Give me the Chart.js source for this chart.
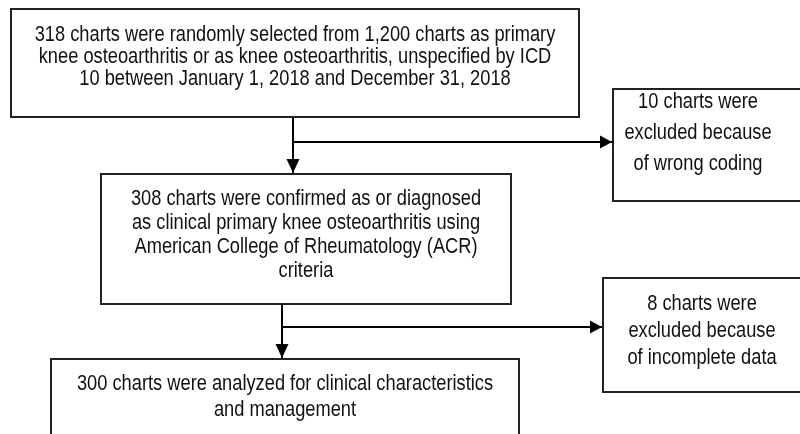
<!DOCTYPE html>
<html>
<head>
<meta charset="utf-8">
<script src="https://cdn.jsdelivr.net/npm/chart.js@4"></script>
<style>
  html, body { margin: 0; padding: 0; background: #fff; }
  canvas { display: block; }
</style>
</head>
<body>
<canvas id="flow_chart" width="800" height="434"></canvas>
<script>
// counts shown in the flow
const totalCharts = 1200;
const selectedCharts = 318;
const wrongCoding = 10;
const confirmedCharts = 308;
const incompleteData = 8;
const analyzedCharts = 300;

// text of each box, one entry per line
const boxLines = [
  [selectedCharts + " charts were randomly selected from 1,200 charts as primary",
   "knee osteoarthritis or as knee osteoarthritis, unspecified by ICD",
   "10 between January 1, 2018 and December 31, 2018"],
  [wrongCoding + " charts were", "excluded because", "of wrong coding"],
  [confirmedCharts + " charts were confirmed as or diagnosed",
   "as clinical primary knee osteoarthritis using",
   "American College of Rheumatology (ACR)",
   "criteria"],
  [incompleteData + " charts were", "excluded because", "of incomplete data"],
  [analyzedCharts + " charts were analyzed for clinical characteristics",
   "and management"]
];

// layout (diagram units = pixels of the 800x434 page)
// x0,y0,x1,y1 = box edges, tx = text centre, ty = first baseline, lh = line step
const boxLayout = [
  {x0: 11,  y0: 9,   x1: 579, y1: 117, tx: 295, ty: 41,  lh: 22},
  {x0: 613, y0: 89,  x1: 810, y1: 201, tx: 698, ty: 108, lh: 31},
  {x0: 101, y0: 174, x1: 511, y1: 304, tx: 306, ty: 205, lh: 24},
  {x0: 603, y0: 278, x1: 810, y1: 392, tx: 702, ty: 310, lh: 27},
  {x0: 51,  y0: 359, x1: 519, y1: 450, tx: 285, ty: 390, lh: 26}
];

// connectors, last point gets an arrow head
const connectors = [
  {pts: [{x: 293, y: 117}, {x: 293, y: 173}], dir: "down"},
  {pts: [{x: 293, y: 142}, {x: 612, y: 142}], dir: "right"},
  {pts: [{x: 282, y: 305}, {x: 282, y: 358}], dir: "down"},
  {pts: [{x: 282, y: 327}, {x: 602, y: 327}], dir: "right"}
];

const fontFamily = "'Liberation Sans', Arial, sans-serif";
const fontSize = 22;
const squeeze = 0.83; // text is narrow in the original

const flowPlugin = {
  id: "flowBoxes",
  afterDatasetsDraw(chart) {
    let ctx = chart.ctx;
    let xs = chart.scales.x, ys = chart.scales.y;
    ctx.save();
    // arrow heads
    ctx.fillStyle = "#000";
    connectors.forEach(c => {
      let p = c.pts[c.pts.length - 1];
      let px = xs.getPixelForValue(p.x), py = ys.getPixelForValue(p.y);
      ctx.beginPath();
      if (c.dir == "down") {
        ctx.moveTo(px, py);
        ctx.lineTo(px - 6.5, py - 14);
        ctx.lineTo(px + 6.5, py - 14);
      } else {
        ctx.moveTo(px, py);
        ctx.lineTo(px - 12, py - 6.5);
        ctx.lineTo(px - 12, py + 6.5);
      }
      ctx.closePath();
      ctx.fill();
    });
    // boxes and text
    boxLayout.forEach((b, i) => {
      let x0 = xs.getPixelForValue(b.x0), x1 = xs.getPixelForValue(b.x1);
      let y0 = ys.getPixelForValue(b.y0), y1 = ys.getPixelForValue(b.y1);
      ctx.strokeStyle = "#222";
      ctx.lineWidth = 2;
      ctx.strokeRect(x0, y0, x1 - x0, y1 - y0);
      ctx.fillStyle = "#111";
      ctx.font = fontSize + "px " + fontFamily;
      ctx.textAlign = "center";
      ctx.textBaseline = "alphabetic";
      boxLines[i].forEach((line, k) => {
        let cx = xs.getPixelForValue(b.tx);
        let cy = ys.getPixelForValue(b.ty + k * b.lh);
        ctx.save();
        ctx.translate(cx, cy);
        ctx.scale(squeeze, 1);
        ctx.fillText(line, 0, 0);
        ctx.restore();
      });
    });
    ctx.restore();
  }
};

new Chart("flow_chart", {
  type: "scatter",
  data: {
    datasets: connectors.map(c => ({
      data: c.pts,
      showLine: true,
      borderColor: "#000",
      borderWidth: 2,
      pointRadius: 0,
      fill: false
    }))
  },
  options: {
    responsive: false,
    animation: false,
    layout: {padding: 0},
    plugins: {legend: {display: false}, tooltip: {enabled: false}},
    scales: {
      x: {type: "linear", min: 0, max: 800, display: false},
      y: {type: "linear", min: 0, max: 434, reverse: true, display: false}
    }
  },
  plugins: [flowPlugin]
});
</script>
</body>
</html>
